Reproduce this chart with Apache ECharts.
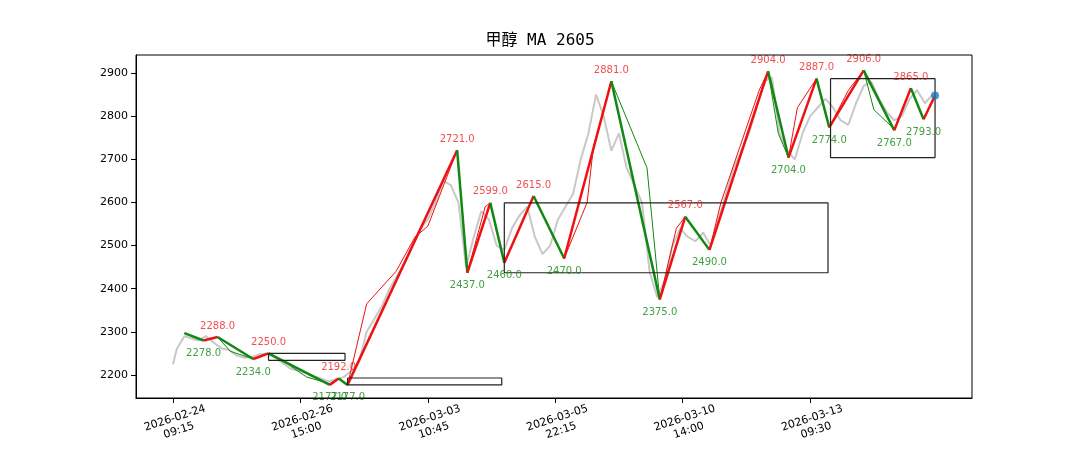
<!DOCTYPE html><html><head><meta charset="utf-8"><script src="https://cdn.jsdelivr.net/npm/echarts@6/dist/echarts.min.js"></script></head><body style="margin:0;background:#fff"><div id="c" style="width:1080px;height:450px"></div><script>
const tickLabels=['2026-02-24\n09:15','2026-02-26\n15:00','2026-03-03\n10:45','2026-03-05\n22:15','2026-03-10\n14:00','2026-03-13\n09:30'];
const tickPos=[0,100,200,300,400,500];
const yTicks=[2200,2300,2400,2500,2600,2700,2800,2900];
const pivotX=[9,24,35,63,75,123,130,137,223,231,249,260,283,307,344,382,402,421,467,483,505,515,542,566,579,589,598];
const pivotV=[2297,2280,2288,2237,2250,2177,2192,2177,2721,2437,2599,2460,2615,2470,2881,2375,2567,2490,2904,2704,2887,2774,2906,2767,2865,2793,2848];
const pivotLabel=[null,'2278.0','2288.0','2234.0','2250.0','2177.0','2192.0','2177.0','2721.0','2437.0','2599.0','2460.0','2615.0','2470.0','2881.0','2375.0','2567.0','2490.0','2904.0','2704.0','2887.0','2774.0','2906.0','2767.0','2865.0','2793.0',null];
const thinX=[9,24,35,45,63,75,90,105,123,130,137,152,175,190,200,223,231,245,249,260,283,307,325,330,344,372,382,395,402,421,430,445,460,467,475,483,490,505,515,530,542,550,566,579,589,598];
const thinV=[2297,2280,2288,2255,2237,2250,2225,2195,2180,2192,2177,2365,2440,2520,2545,2721,2437,2590,2599,2460,2615,2470,2600,2730,2881,2680,2375,2540,2567,2490,2600,2730,2860,2904,2760,2704,2820,2887,2774,2860,2906,2815,2770,2865,2793,2848];
const grayX=[0,3,6,9,14,20,26,32,38,44,50,56,62,68,74,80,86,92,98,104,110,116,122,128,134,140,146,152,158,164,170,176,182,188,194,200,206,212,218,224,230,236,242,248,254,260,266,272,278,284,290,296,302,308,314,320,326,332,338,344,350,356,362,368,374,380,386,392,398,404,410,416,422,428,434,440,446,452,458,464,470,476,482,488,494,500,506,512,518,524,530,536,542,548,554,560,566,572,578,584,590,596];
const grayV=[2225,2260,2275,2290,2285,2280,2290,2275,2262,2258,2245,2240,2242,2248,2250,2240,2228,2215,2210,2205,2198,2192,2185,2190,2195,2210,2230,2300,2330,2360,2400,2430,2460,2500,2540,2560,2600,2650,2640,2600,2450,2520,2580,2560,2500,2490,2540,2570,2590,2520,2480,2500,2560,2590,2620,2700,2760,2850,2800,2720,2760,2680,2640,2600,2440,2380,2420,2500,2540,2520,2510,2530,2500,2560,2620,2680,2720,2760,2820,2880,2890,2760,2720,2700,2760,2800,2820,2840,2820,2790,2780,2830,2870,2880,2840,2810,2790,2800,2840,2860,2830,2850];
const boxes=[[75,135,2250,2234],[137,258,2193,2177],[260,514,2599,2437],[516,598,2887,2704]];
const series=[];
series.push({type:'line',data:grayX.map((x,i)=>[x,grayV[i]]),symbol:'none',lineStyle:{color:'#c8c8c8',width:2},z:1});
for(let i=0;i<thinX.length-1;i++){const up=thinV[i+1]>thinV[i];series.push({type:'line',data:[[thinX[i],thinV[i]],[thinX[i+1],thinV[i+1]]],symbol:'none',lineStyle:{color:up?'#ee1111':'#118811',width:1},z:2});}
for(let i=0;i<pivotX.length-1;i++){const up=pivotV[i+1]>pivotV[i];series.push({type:'line',data:[[pivotX[i],pivotV[i]],[pivotX[i+1],pivotV[i+1]]],symbol:'none',lineStyle:{color:up?'#ee1111':'#118811',width:2.5},z:3});}
boxes.forEach(b=>series.push({type:'line',data:[[b[0],b[2]],[b[1],b[2]],[b[1],b[3]],[b[0],b[3]],[b[0],b[2]]],symbol:'none',lineStyle:{color:'#222',width:1.2},z:4}));
const hi=[],lo=[];
pivotLabel.forEach((l,i)=>{if(!l)return;const prev=pivotV[i-1],isHi=pivotV[i]>prev;(isHi?hi:lo).push({value:[pivotX[i],pivotV[i]],name:l});});
series.push({type:'scatter',data:hi,symbolSize:0,label:{show:true,position:'top',distance:6,formatter:p=>p.name,color:'#ee2222',fontSize:10,fontFamily:'DejaVu Sans'},z:5});
series.push({type:'scatter',data:lo,symbolSize:0,label:{show:true,position:'bottom',distance:8,formatter:p=>p.name,color:'#118811',fontSize:10,fontFamily:'DejaVu Sans'},z:5});
series.push({type:'scatter',data:[[pivotX[pivotX.length-1],pivotV[pivotV.length-1]]],symbolSize:8,itemStyle:{color:'#1f77b4'},z:6});
const ch=echarts.init(document.getElementById('c'));
ch.setOption({animation:false,title:{text:'甲醇 MA 2605',left:'center',top:28,textStyle:{fontFamily:'DejaVu Sans Mono, Noto Sans CJK SC',fontSize:16,fontWeight:'normal',color:'#000'}},
grid:{left:136,right:108,top:55,bottom:52},
xAxis:{type:'value',min:-29,max:627,splitLine:{show:false},axisLine:{onZero:false,lineStyle:{color:'#000'}},
 axisLabel:{rotate:18,align:'center',verticalAlign:'top',margin:14,color:'#000',fontSize:11,fontFamily:'DejaVu Sans',lineHeight:13,formatter:v=>{const k=tickPos.indexOf(v);return k<0?'':tickLabels[k];},customValues:tickPos},
 axisTick:{customValues:tickPos,lineStyle:{color:'#000'}}},
yAxis:{type:'value',min:2146.6,max:2941.8,splitLine:{show:false},axisLine:{show:true,onZero:false,lineStyle:{color:'#000'}},axisTick:{show:true,customValues:yTicks,lineStyle:{color:'#000'}},
 axisLabel:{color:'#000',fontSize:11,fontFamily:'DejaVu Sans',customValues:yTicks,formatter:v=>String(v)}},
series,
graphic:[{type:'rect',shape:{x:136,y:55,width:836,height:343},style:{fill:'none',stroke:'#000',lineWidth:1},z:10}]});
</script></body></html>
